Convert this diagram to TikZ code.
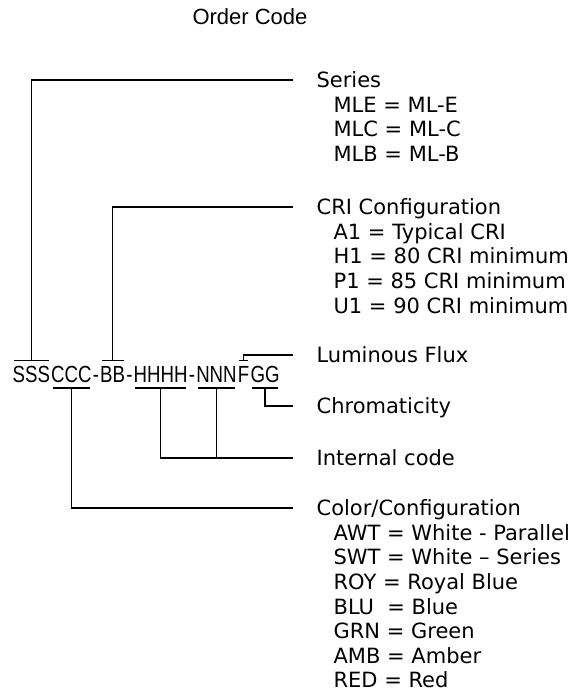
\documentclass[tikz,border=0pt]{standalone}
\usepackage{fontspec}
\setmainfont{DejaVu Sans}
\newfontfamily\codefont[FakeStretch=0.8]{Liberation Sans}
\newfontfamily\titlefont{Liberation Sans}
\begin{document}
\begin{tikzpicture}[x=0.75pt,y=-0.75pt,line width=0.9pt,
    lbl/.style={anchor=west,inner sep=0,font=\fontsize{15.75}{18}\selectfont,text height=11.5pt,text depth=0pt},
    code/.style={anchor=base west,inner sep=0,font=\codefont\fontsize{17.5}{20}\selectfont,text height=12.5pt,text depth=0pt}]
    \useasboundingbox (0,0) rectangle (578,698);
    \def\dy{24.6} \def\lx{316} \def\ix{333}
    \node[font=\titlefont\fontsize{16.5}{18}\selectfont] (title) at (250,17) {Order Code};
    % the code itself
    \node[code] (S) at (12,382) {SSS};
    \node[code] (C) at (S.base east) {CCC};
    \node[code] (d1) at (C.base east) {-};
    \node[code] (B) at (d1.base east) {BB};
    \node[code] (d2) at (B.base east) {-};
    \node[code] (H) at (d2.base east) {HHHH};
    \node[code] (d3) at (H.base east) {-};
    \node[code] (N) at (d3.base east) {NNN};
    \node[code] (F) at (N.base east) {F};
    \node[code] (G) at (F.base east) {GG};
    \foreach \n in {S,B,F}
        \draw ([xshift=1.5pt,yshift=3pt]\n.north west) -- ([xshift=-1.5pt,yshift=3pt]\n.north east);
    \foreach \n in {C,H,N,G}
        \draw ([xshift=1.5pt,yshift=-4pt]\n.south west) -- ([xshift=-1.5pt,yshift=-4pt]\n.south east);
    % labels
    \node[lbl] (series) at (\lx,80) {Series};
    \foreach \t [count=\i] in {MLE = ML-E, MLC = ML-C, MLB = ML-B}
        \node[lbl] (series\i) at (\ix,80+\i*\dy) {\t};
    \node[lbl] (cri) at (\lx,207) {CRI Configuration};
    \foreach \t [count=\i] in {A1 = Typical CRI, H1 = 80 CRI minimum, P1 = 85 CRI minimum, U1 = 90 CRI minimum}
        \node[lbl] (cri\i) at (\ix,207+\i*\dy) {\t};
    \node[lbl] (lum) at (\lx,355) {Luminous Flux};
    \node[lbl] (chrom) at (\lx,406) {Chromaticity};
    \node[lbl] (intern) at (\lx,458) {Internal code};
    \node[lbl] (color) at (\lx,508) {Color/Configuration};
    \foreach \t [count=\i] in {AWT = White - Parallel, SWT = White – Series, ROY = Royal Blue, BLU\ \ = Blue, GRN = Green, AMB = Amber, RED = Red}
        \node[lbl] (color\i) at (\ix,508+\i*\dy) {\t};
    % connectors
    \draw ([yshift=3pt]S.north) |- ([xshift=-17pt]series.west);
    \draw ([yshift=3pt]B.north) |- ([xshift=-17pt]cri.west);
    \draw ([yshift=3pt]F.north) |- ([xshift=-17pt]lum.west);
    \draw ([yshift=-4pt]G.south) |- ([xshift=-17pt]chrom.west);
    \draw ([yshift=-4pt]H.south) |- ([xshift=-17pt]intern.west);
    \draw ([yshift=-4pt]N.south) -- (N.south |- intern.west);
    \draw ([yshift=-4pt]C.south) |- ([xshift=-17pt]color.west);
\end{tikzpicture}
\end{document}
